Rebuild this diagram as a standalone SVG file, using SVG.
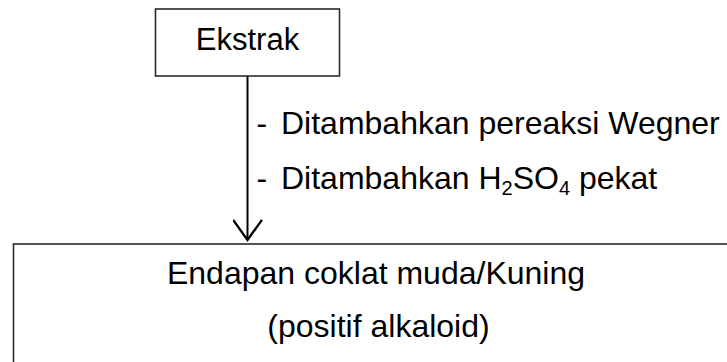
<svg xmlns="http://www.w3.org/2000/svg" width="727" height="362" viewBox="0 0 727 362">
  <defs>
    <style>
      .box { fill: #ffffff; stroke: #2a2a2a; stroke-width: 1.6; }
      .txt { font-family: "Liberation Sans", Arial, sans-serif; font-size: 32px; fill: #000000; }
      .sub { font-size: 20px; }
      .conn { stroke: #000000; stroke-width: 2; fill: none; }
    </style>
    <marker id="arrow" markerUnits="userSpaceOnUse" markerWidth="24" markerHeight="30" refX="18" refY="13" orient="auto" viewBox="0 0 20 26">
      <path d="M0.5,0.5 L18,13 L0.5,25.5" fill="none" stroke="#000" stroke-width="2"/>
    </marker>
  </defs>
  <rect width="727" height="362" fill="#ffffff"/>

  <g id="connectors">
    <line class="conn" x1="247.5" y1="76" x2="247.5" y2="240" marker-end="url(#arrow)"/>
  </g>

  <g id="node-ekstrak">
    <rect class="box" x="155.5" y="9" width="184" height="67"/>
    <text class="txt" x="247.5" y="49.5" text-anchor="middle" style="font-size:31px">Ekstrak</text>
  </g>

  <g id="label-steps">
    <text class="txt" x="256.5" y="133.5">-</text>
    <text class="txt" x="281" y="133.5">Ditambahkan pereaksi Wegner</text>
    <text class="txt" x="256.5" y="188.5">-</text>
    <text class="txt" x="281" y="188.5">Ditambahkan H<tspan class="sub" dy="6">2</tspan><tspan dy="-6">SO</tspan><tspan class="sub" dy="6">4</tspan><tspan dy="-6"> pekat</tspan></text>
  </g>

  <g id="node-hasil">
    <rect class="box" x="13.5" y="244" width="760" height="140"/>
    <text class="txt" x="376" y="283.5" text-anchor="middle">Endapan coklat muda/Kuning</text>
    <text class="txt" x="378.5" y="337" text-anchor="middle">(positif alkaloid)</text>
  </g>
</svg>
